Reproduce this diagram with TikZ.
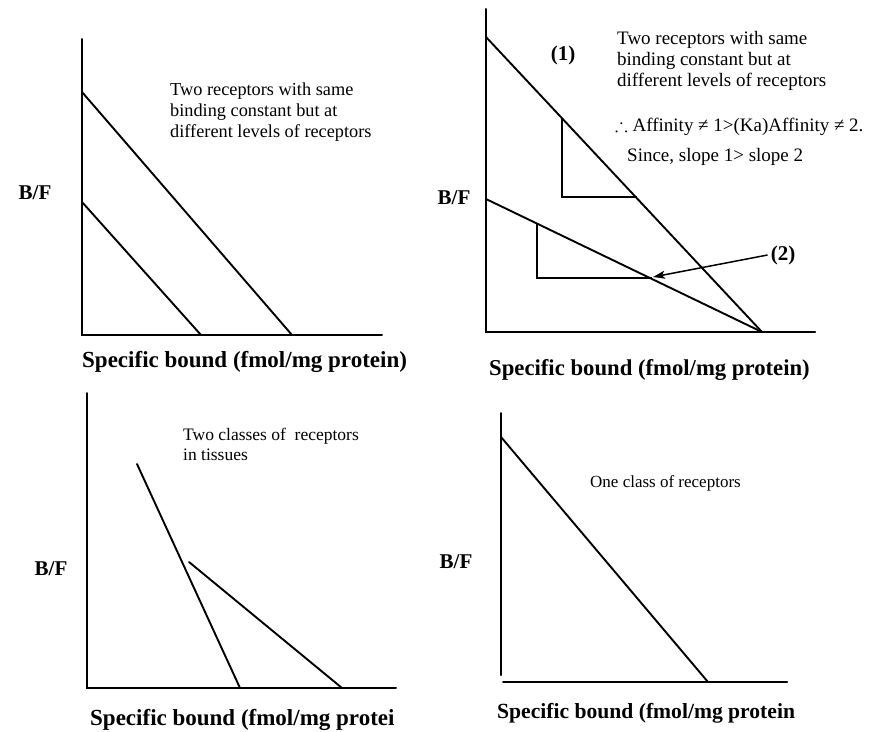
\documentclass[tikz,border=0pt]{standalone}
\usepackage{amsmath}
\usepackage{amssymb}
\usepackage{fontspec}
\setmainfont{Liberation Serif}
\usetikzlibrary{arrows.meta}
\begin{document}
\begin{tikzpicture}[x=1pt,y=-1pt,
  axis/.style={line width=2pt,line cap=round},
  curve/.style={line width=1.9pt,line cap=round},
  note/.style={inner sep=0pt,align=left,anchor=north west},
  axlabel/.style={inner sep=0pt,anchor=west,font=\bfseries},
  bflabel/.style={inner sep=0pt,font=\bfseries\fontsize{21}{24}\selectfont}]
\useasboundingbox[fill=white] (0,0) rectangle (886,731);

% ---------- Panel 1 (top left) ----------
\coordinate (p1top) at (82,39);
\coordinate (p1o) at (82,335);
\coordinate (p1xe) at (382,335);
\coordinate (p1a0) at (82,92);
\coordinate (p1a1) at (292,335);
\coordinate (p1b0) at (82,202);
\coordinate (p1b1) at (201,335);
\draw[axis] (p1top) -- (p1o) -- (p1xe);
\draw[curve] (p1a0) -- (p1a1);
\draw[curve] (p1b0) -- (p1b1);
\node[note,font=\fontsize{18.3}{21}\selectfont] (t1) at (170,83)
  {Two receptors with same\\binding constant but at\\different levels of receptors};
\node[bflabel] (bf1) at (35,193) {B/F};
\node[axlabel,font=\bfseries\fontsize{23}{26}\selectfont] (x1) at (82,362)
  {Specific bound (fmol/mg protein)};

% ---------- Panel 2 (top right) ----------
\coordinate (p2top) at (486,9);
\coordinate (p2o) at (486,332);
\coordinate (p2xe) at (815,332);
\coordinate (p2a0) at (486,37);
\coordinate (p2c) at (762,332);
\coordinate (p2b0) at (486,199);
\draw[axis] (p2top) -- (p2o) -- (p2xe);
\draw[curve] (p2a0) -- (p2c);
\draw[curve] (p2b0) -- (p2c);
\coordinate (tr1a) at (562,118);
\coordinate (tr1b) at (562,197);
\coordinate (tr1c) at (637,197);
\draw[curve,line cap=butt] (tr1a) -- (tr1b) -- (tr1c);
\coordinate (tr2a) at (537,224);
\coordinate (tr2b) at (537,278);
\coordinate (tr2c) at (652,278);
\draw[curve,line cap=butt] (tr2a) -- (tr2b) -- (tr2c);
\node[note,font=\fontsize{19}{21}\selectfont] (t2) at (617,31)
  {Two receptors with same\\binding constant but at\\different levels of receptors};
\node[inner sep=0pt,anchor=west,font=\fontsize{19}{21}\selectfont] (aff) at (615,127)
  {$\boldsymbol{\therefore}$ Affinity ≠ 1>(Ka)Affinity ≠ 2.};
\node[inner sep=0pt,anchor=west,font=\fontsize{19}{21}\selectfont] (since) at (627,157)
  {Since, slope 1> slope 2};
\node[bflabel] (one) at (563,55) {(1)};
\node[bflabel,inner sep=3pt] (two) at (783,255) {(2)};
\coordinate (tip2) at (653,277);
\draw[line width=1.5pt,-{Stealth[length=12pt,width=8pt,inset=3pt]}] (two.west) -- (tip2);
\node[bflabel] (bf2) at (454,198) {B/F};
\node[axlabel,font=\bfseries\fontsize{22.7}{26}\selectfont] (x2) at (489,370)
  {Specific bound (fmol/mg protein)};

% ---------- Panel 3 (bottom left) ----------
\coordinate (p3top) at (87,393);
\coordinate (p3o) at (87,688);
\coordinate (p3xe) at (396,688);
\coordinate (p3a0) at (137,464);
\coordinate (p3a1) at (240,688);
\coordinate (p3b0) at (189,562);
\coordinate (p3b1) at (342,688);
\draw[axis] (p3top) -- (p3o) -- (p3xe);
\draw[curve] (p3a0) -- (p3a1);
\draw[curve] (p3b0) -- (p3b1);
\node[note,font=\fontsize{17.5}{20}\selectfont] (t3) at (183,428)
  {Two classes of\ \ receptors\\in tissues};
\node[bflabel] (bf3) at (51,569) {B/F};
\node[axlabel,font=\bfseries\fontsize{23}{26}\selectfont] (x3) at (90,720)
  {Specific bound (fmol/mg protei};

% ---------- Panel 4 (bottom right) ----------
\coordinate (p4top) at (501,413);
\coordinate (p4bot) at (501,675);
\coordinate (p4x0) at (503,682);
\coordinate (p4xe) at (787,682);
\coordinate (p4a0) at (501,437);
\coordinate (p4a1) at (708,682);
\draw[axis] (p4top) -- (p4bot);
\draw[axis] (p4x0) -- (p4xe);
\draw[curve] (p4a0) -- (p4a1);
\node[inner sep=0pt,anchor=west,font=\fontsize{17}{20}\selectfont] (t4) at (590,483)
  {One class of receptors};
\node[bflabel] (bf4) at (456,562) {B/F};
\node[axlabel,font=\bfseries\fontsize{21.6}{25}\selectfont] (x4) at (497,713)
  {Specific bound (fmol/mg protein};
\end{tikzpicture}
\end{document}
